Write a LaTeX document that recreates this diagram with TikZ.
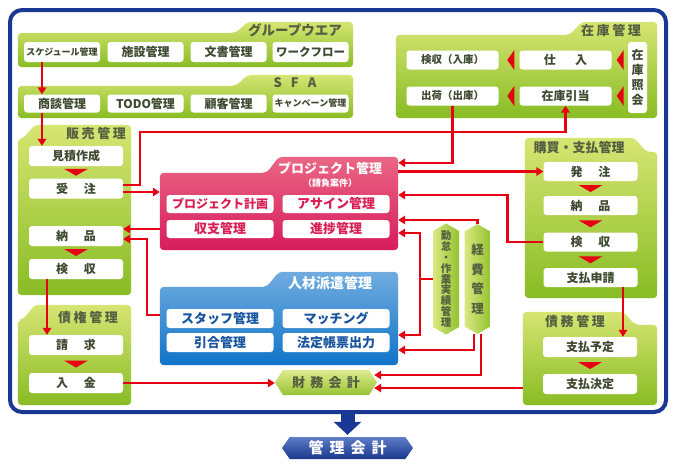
\documentclass[tikz,border=0pt]{standalone}
\usepackage{fontspec}
\setmainfont{Noto Sans CJK JP}
\newfontfamily\spacedfont[LetterSpace=20]{Noto Sans CJK JP}
\newfontfamily\widefont[LetterSpace=40]{Noto Sans CJK JP}
\usetikzlibrary{arrows.meta,positioning,calc,shapes.symbols}
\definecolor{redline}{RGB}{230,0,18}
\definecolor{framebl}{RGB}{24,56,148}
\definecolor{greentop}{RGB}{214,229,115}
\definecolor{greenbot}{RGB}{136,188,36}
\definecolor{pinktop}{RGB}{234,102,132}
\definecolor{pinkbot}{RGB}{214,28,92}
\definecolor{bluetop}{RGB}{112,172,224}
\definecolor{bluebot}{RGB}{16,116,200}
\definecolor{navytop}{RGB}{96,124,200}
\definecolor{navybot}{RGB}{26,56,140}
\definecolor{olivetxt}{RGB}{84,94,64}
\definecolor{subtxt}{RGB}{62,74,48}
\definecolor{pinktxt}{RGB}{216,30,84}
\definecolor{bluetxt}{RGB}{24,84,160}
\newcommand{\jsp}{\hspace{1.3em}}
\newcommand{\tabpanelR}[4]{%
  \shade[#1] (#2.south west) -- (#2.north west) -- ([xshift=#3]#2.north west)
    -- ([xshift=#3+12pt,yshift=#4]#2.north west) -- ([yshift=#4]#2.north east)
    -- (#2.south east) -- cycle;}
\newcommand{\tabpanelL}[4]{%
  \shade[#1] (#2.south west) -- ([yshift=#4]#2.north west)
    -- ([xshift=-#3-12pt,yshift=#4]#2.north east) -- ([xshift=-#3]#2.north east)
    -- (#2.north east) -- (#2.south east) -- cycle;}
\newcommand{\dtri}[2]{%
  \fill[redline] ($(#1.south)!0.5!(#2.north)+(0,3.5)$) -- ++(-12,-7) -- ++(24,0) -- cycle;}
\newcommand{\ltri}[1]{%
  \fill[redline] (#1) -- ++(7,-10) -- ++(0,20) -- cycle;}

\begin{document}
\begin{tikzpicture}[x=1pt, y=-1pt,
    item/.style={fill=white, rounded corners=3pt, inner sep=0pt, text=subtxt,
      font=\bfseries\fontsize{12}{12}\selectfont},
    gitem/.style={item, minimum width=94pt, minimum height=20pt},
    pitem/.style={item, minimum width=107pt, minimum height=18pt, text=pinktxt,
      font=\bfseries\fontsize{13}{13}\selectfont},
    bitem/.style={pitem, minimum height=19pt, text=bluetxt},
    pbody/.style={inner sep=0pt},
    gpanel/.style={top color=greentop, bottom color=greenbot, rounded corners=4pt},
    ppanel/.style={top color=pinktop, bottom color=pinkbot, rounded corners=4pt},
    bpanel/.style={top color=bluetop, bottom color=bluebot, rounded corners=4pt},
    gtitle/.style={inner sep=0pt, text=olivetxt, font=\spacedfont\bfseries\fontsize{13}{13}\selectfont},
    wtitle/.style={inner sep=0pt, text=white, font=\bfseries\fontsize{13}{13}\selectfont},
    pill/.style={signal, signal to=north and south, signal pointer angle=120, inner sep=0pt,
      minimum width=26pt, minimum height=102pt, align=center, text=olivetxt,
      left color=greentop!90!white, right color=greenbot!85!greentop},
    arr/.style={draw=redline, line width=2.5pt, -{Triangle[length=7pt,width=8.5pt]}},
  ]
  \useasboundingbox[fill=white] (0,0) rectangle (679,464);
  \node[draw=framebl, line width=4pt, rounded corners=12pt, inner sep=0pt,
    minimum width=656pt, minimum height=402pt] (frame) at (338,211) {};

  \node[pbody, minimum width=335pt, minimum height=34pt] (gw) at (185.5,50) {};
  \node[pbody, minimum width=335pt, minimum height=32pt] (sfa) at (185.5,102) {};
  \node[pbody, minimum width=261pt, minimum height=83pt] (zaiko) at (526.5,76.5) {};
  \node[pbody, minimum width=113pt, minimum height=156pt] (hanbai) at (74.5,217) {};
  \node[pbody, minimum width=113pt, minimum height=85pt] (saiken) at (74.5,362.5) {};
  \node[pbody, minimum width=238pt, minimum height=77pt] (proj) at (279,211.5) {};
  \node[pbody, minimum width=238pt, minimum height=78pt] (jinzai) at (279,326) {};
  \node[pbody, minimum width=132pt, minimum height=146pt] (kobai) at (591,225) {};
  \node[pbody, minimum width=134pt, minimum height=80pt] (saimu) at (590,365) {};

  \tabpanelR{gpanel}{gw}{218pt}{11pt}
  \tabpanelR{gpanel}{sfa}{218pt}{11pt}
  \tabpanelR{gpanel}{zaiko}{174pt}{13pt}
  \tabpanelR{gpanel}{hanbai}{5pt}{14pt}
  \tabpanelR{gpanel}{saiken}{5pt}{15pt}
  \tabpanelR{ppanel}{proj}{107pt}{16pt}
  \tabpanelR{bpanel}{jinzai}{107pt}{15pt}
  \tabpanelL{gpanel}{kobai}{11pt}{14pt}
  \tabpanelL{gpanel}{saimu}{22pt}{13pt}

  \node[wtitle, font=\bfseries\fontsize{13.5}{13.5}\selectfont, text=olivetxt] (gwtitle) at (295,30) {グループウエア};
  \node[wtitle, text=olivetxt] (sfatitle) at (295,83) {S\hspace{9pt}F\hspace{9pt}A};
  \node[gtitle] (zaikotitle) at (611,31) {在庫管理};
  \node[gtitle] (hanbaititle) at (96,134) {販売管理};
  \node[gtitle] (saikentitle) at (88,318) {債権管理};
  \node[wtitle, text=olivetxt] (kobaititle) at (579,148) {購買・支払管理};
  \node[gtitle] (saimutitle) at (575,322) {債務管理};
  \node[wtitle] (projtitle) at (330,168) {プロジェクト管理};
  \node[wtitle, font=\bfseries\fontsize{9}{9}\selectfont] (projsub) at (330,183) {（請負案件）};
  \node[wtitle, font=\bfseries\fontsize{14}{14}\selectfont] (jinzaititle) at (330,283) {人材派遣管理};

  \node[item, minimum width=76pt, minimum height=20pt, font=\bfseries\fontsize{9}{9}\selectfont] (sched) at (62,52) {スケジュール管理};
  \node[item, minimum width=76pt, minimum height=20pt] (shisetsu) at (145.5,52) {施設管理};
  \node[item, minimum width=76pt, minimum height=20pt] (bunsho) at (228.5,52) {文書管理};
  \node[item, minimum width=76pt, minimum height=20pt, font=\bfseries\fontsize{11.5}{11.5}\selectfont] (wflow) at (310.5,52) {ワークフロー};
  \node[item, minimum width=76pt, minimum height=18pt] (shodan) at (62,103.5) {商談管理};
  \node[item, minimum width=76pt, minimum height=18pt] (todo) at (145.5,103.5) {TODO管理};
  \node[item, minimum width=76pt, minimum height=18pt] (kokyaku) at (228.5,103.5) {顧客管理};
  \node[item, minimum width=76pt, minimum height=18pt, font=\bfseries\fontsize{9}{9}\selectfont] (campaign) at (310.5,103.5) {キャンペーン管理};

  \node[item, minimum width=92pt, minimum height=19pt, font=\bfseries\fontsize{10.5}{10.5}\selectfont] (nyuko) at (452.5,60) {検収（入庫）};
  \node[item, minimum width=92pt, minimum height=19pt] (shiire) at (565.5,60) {仕\hspace{1.6em}入};
  \node[item, minimum width=92pt, minimum height=19pt, font=\bfseries\fontsize{10.5}{10.5}\selectfont] (shukka) at (452.5,96) {出荷（出庫）};
  \node[item, minimum width=92pt, minimum height=19pt] (hikiate) at (565.5,96) {在庫引当};
  \node[item, minimum width=19pt, minimum height=71pt, align=center,
    font=\bfseries\fontsize{12}{15}\selectfont] (shokai) at (637.5,77.5) {在\\庫\\照\\会};

  \node[gitem] (mitsumori) at (76,156) {見積作成};
  \node[gitem] (juchu) at (76,188.5) {受\jsp 注};
  \node[gitem] (nohin) at (76,236) {納\jsp 品};
  \node[gitem] (kenshu) at (76,269) {検\jsp 収};
  \node[gitem] (seikyu) at (76,345) {請\jsp 求};
  \node[gitem] (nyukin) at (76,383) {入\jsp 金};

  \node[gitem, minimum height=19pt] (hatchu) at (590.5,171.5) {発\jsp 注};
  \node[gitem, minimum height=19pt] (ukeire) at (590.5,205.5) {納\jsp 品};
  \node[gitem, minimum height=19pt] (kensa) at (590.5,242) {検\jsp 収};
  \node[gitem, minimum height=19pt] (shinsei) at (590.5,277.5) {支払申請};
  \node[gitem] (yotei) at (590,347) {支払予定};
  \node[gitem] (kettei) at (590,384) {支払決定};

  \node[pitem, font=\bfseries\fontsize{12}{12}\selectfont] (keikaku) at (220,204) {プロジェクト計画};
  \node[pitem] (assign) at (336,204) {アサイン管理};
  \node[pitem] (shushi) at (220,229) {収支管理};
  \node[pitem] (shinchoku) at (336,229) {進捗管理};
  \node[bitem] (staff) at (220,318.5) {スタッフ管理};
  \node[bitem] (matching) at (336,318.5) {マッチング};
  \node[bitem] (hikiai) at (220,342.5) {引合管理};
  \node[bitem] (houtei) at (336,342.5) {法定帳票出力};

  \node[pill, font=\bfseries\fontsize{10.5}{10.8}\selectfont] (kintai) at (446,279)
    {勤\\怠\\・\\作\\業\\実\\績\\管\\理};
  \node[pill, font=\bfseries\fontsize{12.5}{19.5}\selectfont] (keihi) at (477.5,279)
    {経\\費\\管\\理};
  \node[signal, signal to=east and west, signal pointer angle=115, inner sep=0pt,
    minimum width=102pt, minimum height=25pt, text=olivetxt,
    top color=greentop!80!white, bottom color=greenbot!80!greentop,
    font=\widefont\bfseries\fontsize{13}{13}\selectfont] (zaimu) at (326,382.5) {財務会計};
  \node[signal, signal to=east and west, signal pointer angle=110, inner sep=0pt,
    minimum width=131pt, minimum height=22pt, text=white,
    top color=navytop, bottom color=navybot,
    font=\widefont\bfseries\fontsize{15}{15}\selectfont] (kanri) at (347.5,448) {管理会計};

  \dtri{mitsumori}{juchu}
  \dtri{nohin}{kenshu}
  \dtri{seikyu}{nyukin}
  \dtri{hatchu}{ukeire}
  \dtri{ukeire}{kensa}
  \dtri{kensa}{shinsei}
  \dtri{yotei}{kettei}
  \ltri{[xshift=-12pt]shiire.west}
  \ltri{[xshift=-12pt]hikiate.west}
  \ltri{[xshift=5pt]shiire.east}
  \ltri{[xshift=5pt]hikiate.east}

  \draw[framebl, line width=14pt, -{Triangle[length=13pt,width=27pt]}]
    (frame.south -| kanri.north) -- ([yshift=2pt]kanri.north);

  \draw[arr] ([xshift=-20pt]sched.south) -- ([xshift=-20pt]sched.south |- shodan.north);
  \draw[arr] ([xshift=-20pt]shodan.south) -- ([xshift=-20pt]shodan.south |- mitsumori.north);
  \draw[arr] ([xshift=-29pt]kenshu.south) -- ([xshift=-29pt]kenshu.south |- seikyu.north);
  \draw[arr] ([xshift=32.5pt]shinsei.south) -- ([xshift=32.5pt]shinsei.south |- yotei.north);
  \draw[arr] ([yshift=3.5pt]juchu.east) -- ++(17,0) |- ([yshift=-26.5pt]hikiate.south) -- (hikiate.south);
  \draw[arr] ([yshift=-3.5pt]juchu.east) -- ([yshift=-3.5pt]juchu.east -| proj.west);
  \draw[arr] (shukka.south) |- ([yshift=10pt]proj.north east);
  \draw[arr] (proj.east |- hatchu.west) -- (hatchu.west);
  \draw[arr] (kensa.west) -- ++(-36,0) |- ([yshift=16.5pt]proj.east);
  \draw[arr] (keihi.north) |- ([yshift=-8.5pt]proj.east);
  \draw[arr] (kintai.west) -- ++(-13,0) coordinate (kbr) |- ([yshift=-21.5pt]proj.east);
  \draw[arr] (kbr) |- ([yshift=-9pt]jinzai.east);
  \draw[arr] ([xshift=-3.5pt]keihi.south) |- ([yshift=-24pt]jinzai.east);
  \coordinate (zaimuA) at ([xshift=-3pt,yshift=7.5pt]zaimu.east);
  \coordinate (zaimuB) at ([xshift=-3pt,yshift=-5.5pt]zaimu.east);
  \draw[arr] ([xshift=3.5pt]keihi.south) |- (zaimuA);
  \draw[arr] (saimu.west |- zaimuB) -- (zaimuB);
  \draw[arr] (nyukin.east) -- (nyukin.east -| zaimu.west);
  \coordinate (nohinA) at ([yshift=7pt]nohin.east);
  \coordinate (nohinB) at ([yshift=-3pt]nohin.east);
  \draw[arr] (nohinA -| proj.west) -- (nohinA);
  \draw[arr] ([yshift=11pt]jinzai.west) -- ++(-13,0) |- (nohinB);
\end{tikzpicture}
\end{document}
